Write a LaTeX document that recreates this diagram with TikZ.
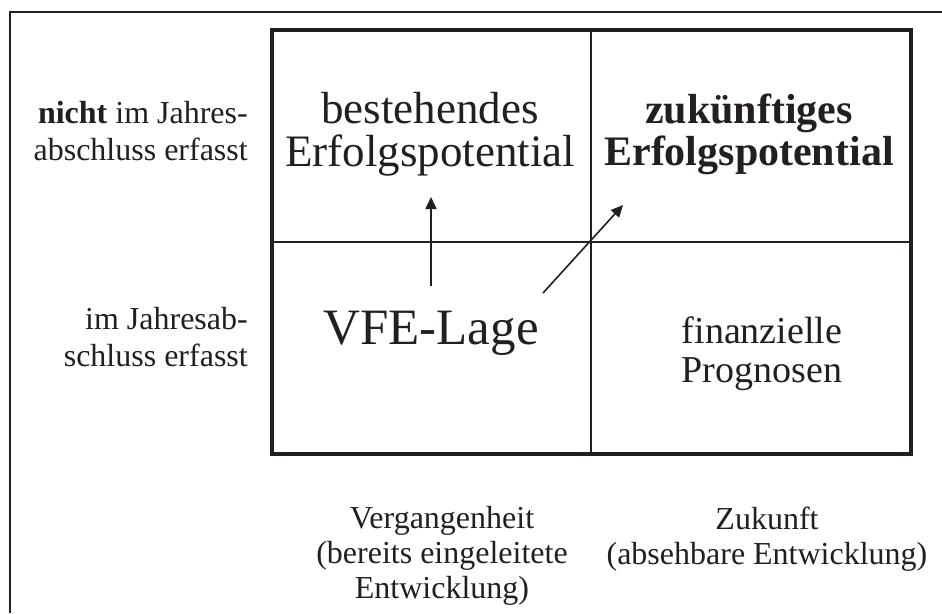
\documentclass[tikz,border=0pt]{standalone}
\usepackage{fontspec}
\setmainfont{Liberation Serif}
\usetikzlibrary{arrows.meta}
\definecolor{ink}{RGB}{35,31,32}
\begin{document}
\begin{tikzpicture}[x=1pt,y=-1pt,
  frameline/.style={draw=ink,line width=2pt},
  gridbox/.style={draw=ink,line width=4pt},
  gridline/.style={draw=ink,line width=1.3pt},
  flow/.style={draw=ink,line width=1.6pt,-{Triangle[length=12pt,width=11pt]}},
  sidelabel/.style={text=ink,inner sep=0pt,align=right,anchor=east,font=\fontsize{32}{37}\selectfont},
  axislabel/.style={text=ink,inner sep=0pt,align=center,font=\fontsize{32}{35}\selectfont},
  celltext/.style={text=ink,inner sep=0pt,align=center}]
\useasboundingbox (0,0) rectangle (942,613);
\fill[white] (0,0) rectangle (942,613);

% outer frame (only the top and left edges fall inside the page)
\draw[frameline] (10,613) -- (10,12) -- (942,12);

% four-field matrix
\draw[gridbox] (272,30) rectangle (911,454);
\draw[gridline] (272,242) -- (911,242);
\draw[gridline] (591,30) -- (591,454);

% row labels
\node[sidelabel] (rowtop) at (248,131) {\textbf{nicht} im Jahres-\\abschluss erfasst};
\node[sidelabel] (rowbot) at (248,337.5) {im Jahresab-\\schluss erfasst};

% column labels
\node[axislabel] (colpast) at (442,556) {Vergangenheit\\(bereits eingeleitete\\Entwicklung)};
\node[axislabel] (colfut) at (767,539) {Zukunft\\(absehbare Entwicklung)};

% cell contents
\node[celltext,font=\fontsize{45}{43}\selectfont] (existing) at (430,134) {bestehendes\\Erfolgspotential};
\node[celltext,font=\fontsize{42}{42}\selectfont\bfseries] (future) at (749,134) {zukünftiges\\Erfolgspotential};
\node[celltext,font=\fontsize{51}{51}\selectfont] (vfe) at (431,333) {VFE-Lage};
\node[celltext,font=\fontsize{38}{39}\selectfont] (fin) at (762,354) {finanzielle\\Prognosen};

% arrows from VFE-Lage into the upper row
\coordinate (upstart) at (431,286);
\coordinate (uptip) at (431,197);
\coordinate (diagstart) at (543,293);
\coordinate (diagtip) at (623,205);
\draw[flow] (upstart) -- (uptip);
\draw[flow] (diagstart) -- (diagtip);
\end{tikzpicture}
\end{document}
